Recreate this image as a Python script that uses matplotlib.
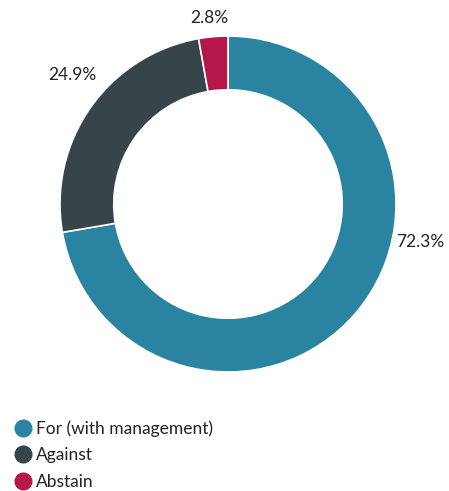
import matplotlib.pyplot as plt
from matplotlib.lines import Line2D

labels = ['For (with management)', 'Against', 'Abstain']
values = [72.3, 24.9, 2.8]
colors = ['#2a83a0', '#37444a', '#b5174b']

plt.rcParams['font.family'] = ['Lato', 'DejaVu Sans']

fig = plt.figure(figsize=(4.49, 4.91), dpi=100)
ax = fig.add_axes([60 / 449, 119 / 491, 336 / 449, 336 / 491])

wedges, _ = ax.pie(values, colors=colors, startangle=90, counterclock=False,
                   radius=1.0, wedgeprops=dict(width=0.32, edgecolor='white', linewidth=1.2))
ax.set_xlim(-1, 1)
ax.set_ylim(-1, 1)
ax.set_aspect('equal')
ax.axis('off')

# percentage labels outside the ring
label_pos = [(420, 242), (72, 75), (209, 18)]
for v, (px, py) in zip(values, label_pos):
    fig.text(px / 449, 1 - py / 491, f'{v}%', ha='center', va='center',
             fontsize=12.5, color='#222222')

handles = [Line2D([], [], marker='o', linestyle='none', markersize=12,
                  markerfacecolor=c, markeredgecolor=c) for c in colors]
fig.legend(handles, labels, loc='upper left', bbox_to_anchor=(0.0, 1 - 408 / 491),
           frameon=False, fontsize=12.5, handletextpad=0.15, labelspacing=0.62,
           handlelength=1.2, borderaxespad=0.3, labelcolor='#222222')

fig.savefig('out.png', dpi=100)
